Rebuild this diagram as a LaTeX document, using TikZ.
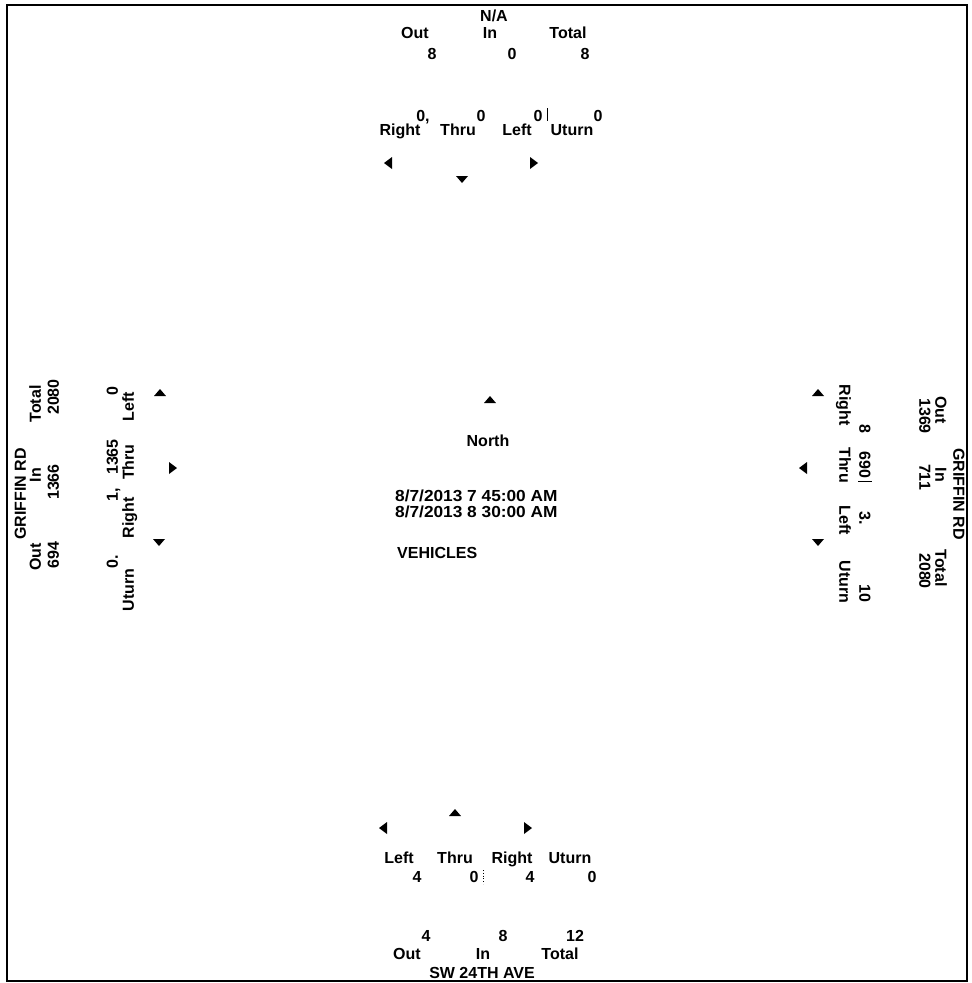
\documentclass[tikz,border=0pt]{standalone}
\usepackage{fontspec}
\setmainfont{Liberation Sans}
\newfontface\datefont[FakeStretch=1.08]{Liberation Sans Bold}
\begin{document}
\begin{tikzpicture}[x=1pt,y=-1pt,
  lbl/.style={font=\fontsize{16}{18}\selectfont\bfseries, inner sep=0pt, text height=11.5pt, text depth=0pt},
  rotl/.style={lbl, rotate=90},
  rotr/.style={lbl, rotate=-90},
  tri/.style={fill=black},
  tick/.style={line width=0.8pt}]
\useasboundingbox (0,0) rectangle (972,983);
\draw[line width=2.5pt] (7,5) rectangle (967,981);

% ---------- North approach ----------
\node[lbl] (nName) at (494,16) {N/A};
\node[lbl] (nOutL) at (415,33) {Out};
\node[lbl] (nInL)  at (490,33) {In};
\node[lbl] (nTotL) at (568,33) {Total};
\node[lbl] (nOut)  at (432,54) {8};
\node[lbl] (nIn)   at (512,54) {0};
\node[lbl] (nTot)  at (585,54) {8};
\node[lbl] (nRn) at (423,116) {0,};
\node[lbl] (nTn) at (481,116) {0};
\node[lbl] (nLn) at (538,116) {0};
\node[lbl] (nUn) at (598,116) {0};
\draw[tick] (547,108) -- (547,121);
\node[lbl] (nR) at (400,130) {Right};
\node[lbl] (nT) at (458,130) {Thru};
\node[lbl] (nL) at (517,130) {Left};
\node[lbl] (nU) at (572,130) {Uturn};
\fill[tri] (384,163) -- (392,157) -- (392,169) -- cycle;
\fill[tri] (462,183) -- (456,176) -- (468,176) -- cycle;
\fill[tri] (538,163) -- (530,157) -- (530,169) -- cycle;

% ---------- Centre ----------
\fill[tri] (490,396) -- (484,403) -- (496,403) -- cycle;
\node[lbl] (north) at (488,441) {North};
\node[lbl, anchor=west, font=\fontsize{16}{18}\selectfont\datefont] (d1) at (395,496) {8/7/2013 7 45:00 AM};
\node[lbl, anchor=west, font=\fontsize{16}{18}\selectfont\datefont] (d2) at (395,512) {8/7/2013 8 30:00 AM};
\node[lbl, anchor=west] (veh) at (397,553) {VEHICLES};

% ---------- South approach ----------
\fill[tri] (455,809) -- (449,816) -- (461,816) -- cycle;
\fill[tri] (379,828) -- (387,822) -- (387,834) -- cycle;
\fill[tri] (532,828) -- (524,822) -- (524,834) -- cycle;
\node[lbl] (sL) at (399,858) {Left};
\node[lbl] (sT) at (455,858) {Thru};
\node[lbl] (sR) at (512,858) {Right};
\node[lbl] (sU) at (570,858) {Uturn};
\node[lbl] (sLn) at (417,877) {4};
\node[lbl] (sTn) at (474,877) {0};
\node[lbl] (sRn) at (530,877) {4};
\node[lbl] (sUn) at (592,877) {0};
\draw[tick, dotted] (483,870) -- (483,884);
\node[lbl] (sOut) at (426,936) {4};
\node[lbl] (sIn)  at (503,936) {8};
\node[lbl] (sTot) at (575,936) {12};
\node[lbl] (sOutL) at (407,954) {Out};
\node[lbl] (sInL)  at (483,954) {In};
\node[lbl] (sTotL) at (560,954) {Total};
\node[lbl] (sName) at (482,973) {SW 24TH AVE};

% ---------- West approach ----------
\node[rotl] (wName) at (20,494) {GRIFFIN RD};
\node[rotl] (wTotL) at (35,404) {Total};
\node[rotl] (wInL)  at (35,475) {In};
\node[rotl] (wOutL) at (35,557) {Out};
\node[rotl] (wTot) at (53,397) {2080};
\node[rotl] (wIn)  at (53,482) {1366};
\node[rotl] (wOut) at (53,555) {694};
\node[rotl] (wLn) at (112,391) {0};
\node[rotl] (wTn) at (112,457) {1365};
\node[rotl] (wRn) at (112,495) {1,};
\node[rotl] (wUn) at (112,562) {0.};
\node[rotl] (wL) at (128,407) {Left};
\node[rotl] (wT) at (128,462) {Thru};
\node[rotl] (wR) at (128,518) {Right};
\node[rotl] (wU) at (128,590) {Uturn};
\fill[tri] (160,389) -- (154,396) -- (166,396) -- cycle;
\fill[tri] (177,468) -- (169,462) -- (169,474) -- cycle;
\fill[tri] (159,546) -- (153,539) -- (165,539) -- cycle;

% ---------- East approach ----------
\node[rotr] (eName) at (959,494) {GRIFFIN RD};
\node[rotr] (eOutL) at (941,410) {Out};
\node[rotr] (eInL)  at (941,475) {In};
\node[rotr] (eTotL) at (941,568) {Total};
\node[rotr] (eOut) at (925,416) {1369};
\node[rotr] (eIn)  at (925,477) {711};
\node[rotr] (eTot) at (925,571) {2080};
\node[rotr] (eRn) at (865,429) {8};
\node[rotr] (eTn) at (865,465) {690};
\draw[tick] (858,481) -- (872,481);
\node[rotr] (eLn) at (865,518) {3.};
\node[rotr] (eUn) at (865,593) {10};
\node[rotr] (eR) at (845,405) {Right};
\node[rotr] (eT) at (845,465) {Thru};
\node[rotr] (eL) at (845,520) {Left};
\node[rotr] (eU) at (845,582) {Uturn};
\fill[tri] (818,389) -- (812,396) -- (824,396) -- cycle;
\fill[tri] (799,468) -- (807,462) -- (807,474) -- cycle;
\fill[tri] (818,546) -- (812,539) -- (824,539) -- cycle;
\end{tikzpicture}
\end{document}
